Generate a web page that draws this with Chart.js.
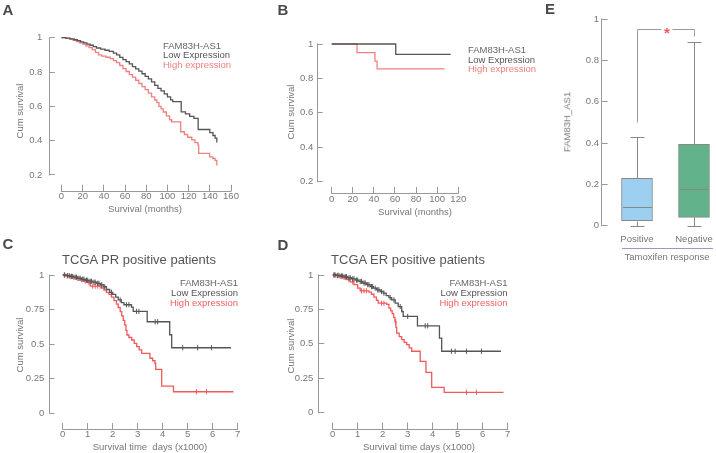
<!DOCTYPE html>
<html><head><meta charset="utf-8">
<script src="https://cdn.jsdelivr.net/npm/chart.js@4.4.1/dist/chart.umd.min.js"></script>
<style>
html,body{margin:0;padding:0;background:#fff;overflow:hidden;}
body{position:relative;width:716px;height:453px;font-family:"Liberation Sans",Arial,Helvetica,sans-serif;}
canvas{position:absolute;}
.tx{position:absolute;white-space:pre;line-height:1;font-size:9.5px;color:#777;}
.c{transform:translate(-50%,-50%);}
.l{transform:translate(0,-50%);}
.r{transform:translate(-100%,-50%);}
.v{transform:translate(-50%,-50%) rotate(-90deg);}
.let{font-weight:bold;font-size:15px;color:#4a4a4a;}
.ttl{font-size:13px;color:#555;}
.lh{color:#666;}
.ll{color:#555;}
.lr{color:#f08080;}
.lr2{color:#f06060;}
.uline{position:absolute;height:1px;background:#9a9ac0;}
</style></head><body>

<canvas id="cA"></canvas><canvas id="cB"></canvas><canvas id="cC"></canvas><canvas id="cD"></canvas><canvas id="cE"></canvas>

<div class="tx let c" style="left:8px;top:9px">A</div>
<div class="tx let c" style="left:283px;top:8.5px">B</div>
<div class="tx let c" style="left:550px;top:8px">E</div>
<div class="tx let c" style="left:8px;top:243px">C</div>
<div class="tx let c" style="left:283px;top:244px">D</div>

<div class="tx ttl c" style="left:139px;top:259px">TCGA PR positive patients</div>
<div class="tx ttl c" style="left:408px;top:259px">TCGA ER positive patients</div>

<div class="tx lh l" style="left:163px;top:45.7px">FAM83H-AS1</div>
<div class="tx ll l" style="left:163px;top:55.2px">Low Expression</div>
<div class="tx lr l" style="left:163px;top:64.8px">High expression</div>

<div class="tx lh l" style="left:468px;top:50px">FAM83H-AS1</div>
<div class="tx ll l" style="left:468px;top:59.7px">Low Expression</div>
<div class="tx lr l" style="left:468px;top:69.3px">High expression</div>

<div class="tx lh r" style="left:238px;top:283.3px">FAM83H-AS1</div>
<div class="tx ll r" style="left:238px;top:293px">Low Expression</div>
<div class="tx lr2 r" style="left:238px;top:302.7px">High expression</div>

<div class="tx lh r" style="left:507.5px;top:283.3px">FAM83H-AS1</div>
<div class="tx ll r" style="left:507.5px;top:293px">Low Expression</div>
<div class="tx lr2 r" style="left:507.5px;top:302.7px">High expression</div>

<div class="tx v" style="left:20px;top:111px">Cum survival</div>
<div class="tx c" style="left:145px;top:209px">Survival (months)</div>
<div class="tx v" style="left:290.7px;top:111.7px">Cum survival</div>
<div class="tx c" style="left:415px;top:211.7px">Survival (months)</div>
<div class="tx v" style="left:20px;top:345px">Cum survival</div>
<div class="tx c" style="left:150px;top:447.3px">Survival time  days (x1000)</div>
<div class="tx v" style="left:290.7px;top:346px">Cum survival</div>
<div class="tx c" style="left:419px;top:447.3px">Survival time days (x1000)</div>
<div class="tx v" style="left:566.7px;top:121.7px">FAM83H_AS1</div>
<div class="uline" style="left:622px;top:248px;width:91px"></div>
<div class="tx c" style="left:667px;top:256.7px">Tamoxifen response</div>

<script>
// ---------------- DATA ----------------
// Panel A: survival (months) vs cumulative survival
const aLow = [[0,1],[4,0.997],[8,0.993],[12,0.988],[15,0.983],[18,0.976],[21,0.97],[24,0.963],[27,0.956],[30,0.948],[33,0.94],[37,0.933],[41,0.927],[45,0.92],[49,0.91],[52,0.9],[55,0.885],[58,0.872],[61,0.86],[64,0.847],[67,0.832],[70,0.818],[73,0.805],[76,0.79],[79,0.775],[82,0.76],[85,0.742],[88,0.722],[91,0.705],[94,0.69],[97,0.673],[100,0.655],[103,0.638],[105,0.628],[113,0.568],[117,0.556],[121,0.542],[125,0.53],[129,0.465],[140,0.447],[143,0.43],[145,0.415],[146.6,0.39]];
const aHigh = [[0,1],[4,0.996],[8,0.99],[11,0.984],[14,0.977],[17,0.97],[20,0.962],[23,0.952],[26,0.942],[29,0.93],[32,0.915],[35,0.9],[38,0.893],[42,0.886],[46,0.878],[49,0.866],[52,0.855],[55,0.838],[58,0.82],[61,0.803],[64,0.785],[67,0.77],[70,0.752],[73,0.733],[76,0.715],[79,0.697],[82,0.677],[85,0.655],[88,0.637],[90,0.622],[92,0.6],[94,0.585],[96,0.567],[99,0.545],[102,0.522],[104,0.51],[112.5,0.452],[116,0.436],[119,0.42],[123,0.404],[126,0.388],[128.8,0.374],[129.5,0.326],[139.8,0.306],[142.9,0.296],[145,0.285],[146.6,0.255]];
const aXTicks = [0,20,40,60,80,100,120,140,160];
const aXLabels = ['0','20','40','60','80','100','120','140','160'];
const aYTicks = [0.2,0.4,0.6,0.8,1];
const aYLabels = ['0.2','0.4','0.6','0.8','1'];

// Panel B
const bLow = [[0,1],[60.7,0.94],[112.7,0.94]];
const bHigh = [[0,1],[24,0.95],[41,0.9],[43,0.856],[107,0.856]];
const bXTicks = [0,20,40,60,80,100,120];
const bXLabels = ['0','20','40','60','80','100','120'];
const bYTicks = [0.2,0.4,0.6,0.8,1];
const bYLabels = ['0.2','0.4','0.6','0.8','1'];

// Panel C: TCGA PR positive (days x1000)
const cLow = [[0,1],[0.15,0.995],[0.3,0.99],[0.45,0.984],[0.6,0.976],[0.75,0.97],[0.9,0.962],[1.05,0.955],[1.2,0.948],[1.35,0.94],[1.5,0.93],[1.62,0.915],[1.75,0.895],[1.88,0.875],[2.0,0.86],[2.12,0.84],[2.22,0.82],[2.35,0.8],[2.45,0.785],[2.75,0.768],[2.82,0.737],[3.38,0.662],[4.28,0.568],[4.36,0.474],[6.73,0.474]];
const cLowCens = [[0.08,1],[0.2,0.995],[0.26,0.995],[0.35,0.99],[0.4,0.99],[0.5,0.984],[0.55,0.984],[0.65,0.976],[0.7,0.976],[0.8,0.97],[0.85,0.97],[0.95,0.962],[1.0,0.962],[1.1,0.955],[1.15,0.955],[1.25,0.948],[1.3,0.948],[1.4,0.94],[1.45,0.94],[1.56,0.93],[1.68,0.915],[1.95,0.875],[2.3,0.82],[2.55,0.785],[2.65,0.785],[2.95,0.737],[3.05,0.737],[3.7,0.662],[3.8,0.662],[4.8,0.474],[5.4,0.474],[5.95,0.474]];
const cHigh = [[0,1],[0.12,0.994],[0.25,0.988],[0.4,0.982],[0.55,0.975],[0.7,0.966],[0.85,0.955],[1.0,0.945],[1.1,0.92],[1.55,0.905],[1.65,0.89],[1.75,0.875],[1.85,0.86],[1.95,0.84],[2.05,0.815],[2.15,0.79],[2.22,0.765],[2.3,0.735],[2.36,0.705],[2.42,0.672],[2.48,0.64],[2.53,0.6],[2.57,0.566],[2.65,0.548],[2.76,0.53],[2.86,0.505],[2.96,0.482],[3.06,0.458],[3.16,0.434],[3.49,0.398],[3.6,0.38],[3.69,0.362],[3.72,0.318],[3.96,0.197],[4.43,0.156],[6.83,0.156]];
const cHighCens = [[0.06,1],[0.18,0.994],[0.3,0.988],[0.45,0.982],[0.6,0.975],[0.75,0.966],[0.9,0.955],[1.05,0.945],[1.2,0.92],[1.3,0.92],[1.4,0.92],[1.5,0.92],[5.35,0.156],[5.75,0.156]];

// Panel D: TCGA ER positive
const dLow = [[0,1],[0.15,0.997],[0.3,0.993],[0.45,0.988],[0.6,0.98],[0.75,0.972],[0.9,0.963],[1.05,0.953],[1.2,0.942],[1.35,0.93],[1.5,0.916],[1.63,0.904],[1.76,0.892],[1.9,0.88],[2.02,0.868],[2.14,0.85],[2.25,0.835],[2.36,0.819],[2.5,0.795],[2.62,0.771],[2.76,0.735],[2.82,0.699],[3.39,0.631],[4.27,0.542],[4.36,0.446],[6.73,0.446]];
const dLowCens = [[0.05,1],[0.1,1],[0.2,0.997],[0.25,0.997],[0.35,0.993],[0.4,0.993],[0.5,0.988],[0.55,0.988],[0.65,0.98],[0.7,0.98],[0.8,0.972],[0.85,0.972],[0.95,0.963],[1.0,0.963],[1.1,0.953],[1.15,0.953],[1.25,0.942],[1.3,0.942],[1.4,0.93],[1.45,0.93],[1.55,0.916],[1.6,0.916],[1.7,0.904],[1.8,0.892],[1.85,0.892],[1.95,0.88],[2.05,0.868],[2.3,0.835],[2.45,0.819],[2.7,0.771],[3.0,0.699],[3.7,0.631],[3.8,0.631],[4.75,0.446],[4.9,0.446],[5.35,0.446],[5.95,0.446]];
const dHigh = [[0,1],[0.12,0.995],[0.25,0.99],[0.4,0.983],[0.56,0.966],[0.7,0.95],[0.85,0.93],[1.0,0.905],[1.1,0.885],[1.45,0.875],[1.55,0.86],[1.65,0.84],[1.75,0.815],[1.82,0.795],[2.16,0.787],[2.25,0.76],[2.32,0.74],[2.38,0.72],[2.44,0.69],[2.49,0.662],[2.53,0.62],[2.56,0.578],[2.66,0.553],[2.76,0.53],[2.86,0.51],[2.96,0.494],[3.06,0.47],[3.16,0.446],[3.5,0.373],[3.73,0.293],[3.96,0.184],[4.46,0.147],[6.83,0.147]];
const dHighCens = [[0.06,1],[0.18,0.995],[0.3,0.99],[0.45,0.983],[0.5,0.983],[0.65,0.966],[0.8,0.95],[1.15,0.885],[1.25,0.885],[1.35,0.885],[1.95,0.795],[2.05,0.795],[2.52,0.662],[5.35,0.147],[5.75,0.147]];

const tcgaXTicks = [0,1,2,3,4,5,6,7];
const tcgaXLabels = ['0','1','2','3','4','5','6','7'];
const tcgaYTicks = [0,0.25,0.5,0.75,1];
const tcgaYLabels = ['0','0.25','0.5','0.75','1'];

// Panel E: box plot, FAM83H_AS1 by tamoxifen response
const eCategories = ['Positive','Negative'];
const eMin = [0, 0];
const eQ1 = [0.024, 0.04];
const eMedian = [0.089, 0.176];
const eQ3 = [0.229, 0.394];
const eMax = [0.43, 0.89];
const eYTicks = [0,0.2,0.4,0.6,0.8,1];
const eYLabels = ['0','0.2','0.4','0.6','0.8','1'];
const eBracket = {top:0.95, leftEnd:0.503, rightEnd:0.92, label:'*'};

// ---------------- LAYOUT (positions) ----------------
const YW = 30, XH = 22;
const L = {
  A:{rect:{x:0,y:0,w:265,h:225}, area:{l:49.85,t:37.7,r:231,b:190.7}, x:[-11,160], y:[0.1084,1], xPad:5.6, yPad:12.5},
  B:{rect:{x:270,y:0,w:230,h:225}, area:{l:317.7,t:44,r:458.3,b:193}, x:[-13.27,120], y:[0.134,1], xPad:6.6, yPad:9.5},
  C:{rect:{x:0,y:228,w:268,h:225}, area:{l:49.5,t:275,r:237.7,b:429}, x:[-0.528,7], y:[-0.1135,1], xPad:5.3, yPad:10.2},
  D:{rect:{x:270,y:228,w:268,h:225}, area:{l:319.3,t:275,r:507.7,b:428.5}, x:[-0.536,7], y:[-0.115,1], xPad:5.8, yPad:11},
  E:{rect:{x:540,y:0,w:190,h:250}, area:{l:601.7,t:19,r:722.5,b:225.7}, x:[-0.619,1.5], y:[0,1], xPad:7.6, yPad:8.7}
};

Chart.defaults.font.family = '"Liberation Sans", Arial, Helvetica, sans-serif';
Chart.defaults.font.size = 9.5;
Chart.defaults.color = '#777';

const axisLines = {
  id:'axisLines',
  afterDraw(chart, args, o){
    const {ctx, chartArea} = chart; const xs = chart.scales.x, ys = chart.scales.y;
    ctx.save(); ctx.strokeStyle = o.color || '#999'; ctx.lineWidth = 1; ctx.beginPath();
    const ax = Math.round(chartArea.left) - 0.5;
    const yt = ys.ticks;
    ctx.moveTo(ax, ys.getPixelForValue(yt[0].value) + 0.5);
    ctx.lineTo(ax, ys.getPixelForValue(yt[yt.length-1].value) - 0.5);
    if (o.xLine) {
      const ay = Math.round(chartArea.bottom) + 0.5; const xt = xs.ticks;
      ctx.moveTo(xs.getPixelForValue(xt[0].value) - 0.5, ay);
      ctx.lineTo(xs.getPixelForValue(xt[xt.length-1].value) + 0.5, ay);
    }
    ctx.stroke(); ctx.restore();
  }
};

function setupCanvas(id, r){
  const cv = document.getElementById(id);
  cv.width = r.w; cv.height = r.h;
  cv.style.left = r.x+'px'; cv.style.top = r.y+'px';
  cv.style.width = r.w+'px'; cv.style.height = r.h+'px';
  return cv;
}
function padFor(p){
  const r = p.rect, a = p.area;
  return {left:a.l - r.x - YW, top:a.t - r.y, right:r.x + r.w - a.r, bottom:r.y + r.h - a.b - XH};
}
function scaleX(p, ticks, labels, tickMarks){
  return {type:'linear', min:p.x[0], max:p.x[1], offset:false, bounds:'data',
    afterBuildTicks:s=>{s.ticks = ticks.map(v=>({value:v}));},
    afterFit:s=>{s.height = XH;},
    grid:{display:true, offset:false, drawOnChartArea:false, drawTicks:tickMarks, tickLength:tickMarks?-6:0, tickColor:'#999', tickWidth:1},
    border:{display:false},
    ticks:{padding:p.xPad, color:'#777', maxRotation:0, autoSkip:false, callback:(v,i)=>labels[i]}};
}
function scaleY(p, ticks, labels, tl){
  return {type:'linear', min:p.y[0], max:p.y[1], offset:false, beginAtZero:false,
    afterBuildTicks:s=>{s.ticks = ticks.map(v=>({value:v}));},
    afterFit:s=>{s.width = YW;},
    grid:{display:true, drawOnChartArea:false, drawTicks:true, tickLength:-tl, tickColor:'#999', tickWidth:1},
    border:{display:false},
    ticks:{padding:p.yPad, color:'#777', autoSkip:false, callback:(v,i)=>labels[i]}};
}
const pts = arr => arr.map(([x,y])=>({x,y}));
function stepDs(arr, color){
  return {data:pts(arr), stepped:'before', borderColor:color, borderWidth:1.3, pointRadius:0, fill:false, clip:false, tension:0};
}
function censDs(arr, color){
  return {data:pts(arr), showLine:false, pointStyle:'line', pointRotation:90, pointRadius:2.6, pointBorderColor:color, pointBorderWidth:1, pointBackgroundColor:color, clip:false};
}
function kmChart(id, p, datasets, xt, xl, yt, yl){
  const cv = setupCanvas(id, p.rect);
  return new Chart(cv, {
    type:'line',
    data:{datasets},
    options:{responsive:false, animation:false, devicePixelRatio:1, events:[],
      layout:{padding:padFor(p)},
      plugins:{legend:{display:false}, tooltip:{enabled:false}, axisLines:{color:'#999', xLine:true}},
      scales:{x:scaleX(p, xt, xl, true), y:scaleY(p, yt, yl, 5)}},
    plugins:[axisLines]
  });
}

const GRAY = '#555', RED1 = '#f08080', RED2 = '#ef5a5a';
kmChart('cA', L.A, [stepDs(aLow, GRAY), stepDs(aHigh, RED1)], aXTicks, aXLabels, aYTicks, aYLabels);
kmChart('cB', L.B, [stepDs(bLow, GRAY), stepDs(bHigh, RED1)], bXTicks, bXLabels, bYTicks, bYLabels);
kmChart('cC', L.C, [stepDs(cLow, GRAY), censDs(cLowCens, GRAY), stepDs(cHigh, RED2), censDs(cHighCens, RED2)], tcgaXTicks, tcgaXLabels, tcgaYTicks, tcgaYLabels);
kmChart('cD', L.D, [stepDs(dLow, GRAY), censDs(dLowCens, GRAY), stepDs(dHigh, RED2), censDs(dHighCens, RED2)], tcgaXTicks, tcgaXLabels, tcgaYTicks, tcgaYLabels);

// Box plot extras: whiskers, caps, medians, significance bracket
const boxExtras = {
  id:'boxExtras',
  afterDatasetsDraw(chart){
    const {ctx} = chart; const xs = chart.scales.x, ys = chart.scales.y;
    const meta = chart.getDatasetMeta(0);
    const py = v => Math.round(ys.getPixelForValue(v)) + 0.5;
    ctx.save(); ctx.strokeStyle = '#888'; ctx.lineWidth = 1; ctx.beginPath();
    eCategories.forEach((c,i)=>{
      const bar = meta.data[i]; const cx = Math.round(bar.x) + 0.5; const hw = bar.width/2;
      ctx.moveTo(cx, py(eMin[i])); ctx.lineTo(cx, py(eQ1[i]));
      ctx.moveTo(cx, py(eQ3[i])); ctx.lineTo(cx, py(eMax[i]));
      ctx.moveTo(cx-7, py(eMax[i])); ctx.lineTo(cx+7, py(eMax[i]));
      ctx.moveTo(cx-7, py(eMin[i])); ctx.lineTo(cx+7, py(eMin[i]));
      ctx.moveTo(cx-hw+1, py(eMedian[i])); ctx.lineTo(cx+hw-1, py(eMedian[i]));
    });
    ctx.stroke();
    const x0 = Math.round(xs.getPixelForValue(0)) + 0.5, x1 = Math.round(xs.getPixelForValue(1)) + 0.5;
    const yt = py(eBracket.top); const mid = (x0 + x1)/2 + 1;
    ctx.strokeStyle = '#999'; ctx.beginPath();
    ctx.moveTo(x0, py(eBracket.leftEnd)); ctx.lineTo(x0, yt); ctx.lineTo(mid-5.5, yt);
    ctx.moveTo(mid+5.5, yt); ctx.lineTo(x1, yt); ctx.lineTo(x1, py(eBracket.rightEnd));
    ctx.stroke();
    ctx.fillStyle = '#f05a5a'; ctx.font = 'bold 15px "Liberation Sans", Arial, sans-serif';
    ctx.textAlign = 'center'; ctx.textBaseline = 'middle';
    ctx.fillText(eBracket.label, mid, yt + 4);
    ctx.restore();
  }
};

(function(){
  const p = L.E; const cv = setupCanvas('cE', p.rect);
  new Chart(cv, {
    type:'bar',
    data:{datasets:[{
      data: eCategories.map((c,i)=>({x:i, y:[eQ1[i], eQ3[i]]})),
      backgroundColor:['#9dd0f0','#62b28b'], borderColor:'#888', borderWidth:1, borderSkipped:false, barThickness:31
    }]},
    options:{responsive:false, animation:false, devicePixelRatio:1, events:[],
      layout:{padding:padFor(p)},
      plugins:{legend:{display:false}, tooltip:{enabled:false}, axisLines:{color:'#999', xLine:false}},
      scales:{x:scaleX(p, [0,1], eCategories, false), y:scaleY(p, eYTicks, eYLabels, 6)}},
    plugins:[axisLines, boxExtras]
  });
})();
</script>
</body></html>
